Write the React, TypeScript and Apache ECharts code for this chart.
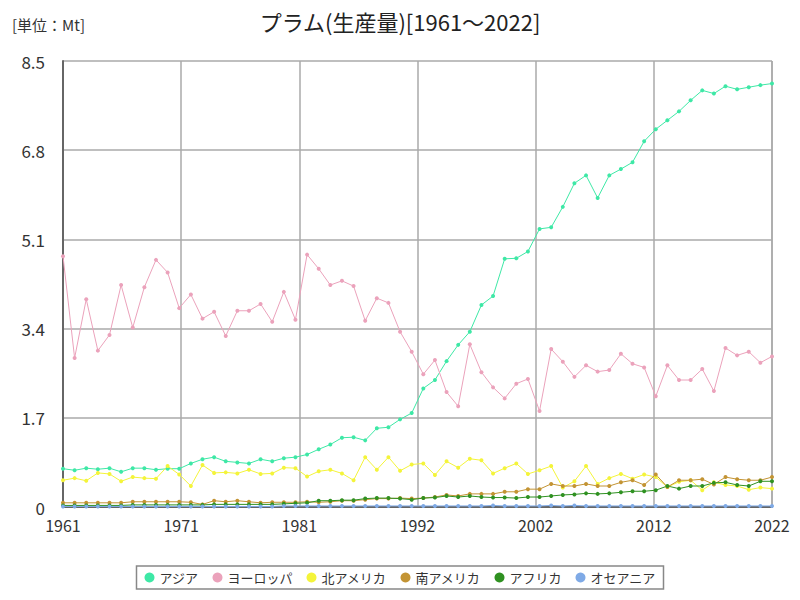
import React, { useEffect, useRef } from "react";
import * as echarts from "echarts";

const START_YEAR = 1961;
const END_YEAR = 2022;
const years: number[] = Array.from({ length: END_YEAR - START_YEAR + 1 }, (_, i) => START_YEAR + i);

const seriesNames = ["アジア", "ヨーロッパ", "北アメリカ", "南アメリカ", "アフリカ", "オセアニア"];
const seriesColors = ["#3ee8a6", "#eba2bb", "#f4f43a", "#c39434", "#2f9121", "#7faae6"];

const asia = [
  0.73, 0.70, 0.74, 0.72, 0.74, 0.67, 0.74, 0.74, 0.71, 0.73,
  0.73, 0.83, 0.91, 0.95, 0.87, 0.85, 0.83, 0.91, 0.87, 0.93,
  0.95, 1.00, 1.10, 1.19, 1.32, 1.33, 1.27, 1.50, 1.52, 1.67,
  1.79, 2.26, 2.42, 2.78, 3.09, 3.34, 3.85, 4.02, 4.73, 4.74,
  4.87, 5.30, 5.33, 5.72, 6.17, 6.32, 5.89, 6.32, 6.44, 6.57,
  6.97, 7.20, 7.37, 7.54, 7.75, 7.94, 7.88, 8.02, 7.96, 8.00,
  8.04, 8.07,
];
const europe = [
  4.78, 2.84, 3.96, 2.98, 3.28, 4.23, 3.42, 4.19, 4.71, 4.47,
  3.79, 4.05, 3.59, 3.72, 3.26, 3.74, 3.74, 3.87, 3.53, 4.10,
  3.57, 4.81, 4.54, 4.23, 4.31, 4.21, 3.55, 3.98, 3.89, 3.34,
  2.96, 2.53, 2.80, 2.19, 1.92, 3.10, 2.57, 2.28, 2.07, 2.35,
  2.44, 1.83, 3.01, 2.77, 2.48, 2.70, 2.58, 2.61, 2.92, 2.73,
  2.66, 2.11, 2.70, 2.42, 2.42, 2.63, 2.21, 3.03, 2.89, 2.96,
  2.75, 2.87,
];
const northAmerica = [
  0.51, 0.55, 0.50, 0.65, 0.63, 0.49, 0.57, 0.55, 0.54, 0.78,
  0.62, 0.40, 0.80, 0.65, 0.66, 0.64, 0.71, 0.63, 0.64, 0.75,
  0.74, 0.58, 0.68, 0.71, 0.64, 0.51, 0.95, 0.71, 0.95, 0.69,
  0.81, 0.83, 0.61, 0.87, 0.75, 0.92, 0.89, 0.64, 0.74, 0.83,
  0.63, 0.70, 0.78, 0.37, 0.49, 0.78, 0.44, 0.55, 0.63, 0.54,
  0.62, 0.57, 0.38, 0.48, 0.51, 0.32, 0.47, 0.42, 0.40, 0.33,
  0.37, 0.35,
];
const southAmerica = [
  0.08, 0.08, 0.08, 0.08, 0.08, 0.08, 0.10, 0.10, 0.10, 0.10,
  0.10, 0.09, 0.05, 0.12, 0.10, 0.12, 0.10, 0.08, 0.09, 0.09,
  0.09, 0.10, 0.09, 0.10, 0.12, 0.12, 0.14, 0.16, 0.16, 0.17,
  0.16, 0.17, 0.19, 0.23, 0.21, 0.25, 0.25, 0.25, 0.29, 0.29,
  0.34, 0.34, 0.44, 0.40, 0.40, 0.44, 0.40, 0.40, 0.47, 0.51,
  0.42, 0.62, 0.38, 0.51, 0.51, 0.53, 0.43, 0.57, 0.53, 0.51,
  0.51, 0.57,
];
const africa = [
  0.03, 0.03, 0.03, 0.03, 0.03, 0.03, 0.04, 0.04, 0.04, 0.04,
  0.04, 0.04, 0.04, 0.05, 0.05, 0.05, 0.05, 0.05, 0.05, 0.06,
  0.07, 0.08, 0.12, 0.12, 0.13, 0.13, 0.16, 0.17, 0.17, 0.16,
  0.14, 0.17, 0.18, 0.21, 0.19, 0.21, 0.19, 0.18, 0.18, 0.17,
  0.19, 0.19, 0.21, 0.23, 0.24, 0.26, 0.25, 0.26, 0.28, 0.30,
  0.30, 0.32, 0.40, 0.35, 0.40, 0.40, 0.46, 0.47, 0.42, 0.40,
  0.49, 0.49,
];
const oceania = [
  0.01, 0.01, 0.01, 0.01, 0.01, 0.01, 0.01, 0.01, 0.01, 0.01,
  0.01, 0.01, 0.01, 0.01, 0.01, 0.01, 0.01, 0.01, 0.01, 0.02,
  0.02, 0.02, 0.02, 0.02, 0.02, 0.02, 0.02, 0.02, 0.02, 0.02,
  0.02, 0.02, 0.02, 0.02, 0.02, 0.02, 0.02, 0.03, 0.02, 0.02,
  0.02, 0.02, 0.03, 0.02, 0.03, 0.02, 0.02, 0.02, 0.02, 0.02,
  0.02, 0.02, 0.02, 0.02, 0.02, 0.02, 0.02, 0.02, 0.02, 0.02,
  0.02, 0.02,
];

const yTicks = { min: 0, max: 8.5, interval: 1.7 };
const FONT = "'Noto Sans CJK JP', 'Noto Sans', sans-serif";

export default function App() {
  const ref = useRef<HTMLDivElement>(null);

  useEffect(() => {
    if (!ref.current) return;
    const chart = echarts.init(ref.current, undefined, { renderer: "svg" });
    const allData = [asia, europe, northAmerica, southAmerica, africa, oceania];
    const span = END_YEAR - START_YEAR;

    chart.setOption({
      animation: false,
      backgroundColor: "#ffffff",
      title: {
        text: "プラム(生産量)[1961～2022]",
        left: "center",
        top: 5,
        textStyle: { fontFamily: FONT, fontSize: 22, fontWeight: "normal", color: "#222" },
      },
      graphic: [
        {
          type: "text",
          left: 12,
          top: 17,
          style: { text: "[単位：Mt]", fontFamily: FONT, fontSize: 15, fill: "#333" },
        },
      ],
      legend: {
        bottom: 11,
        left: "center",
        data: seriesNames,
        icon: "circle",
        itemWidth: 10,
        itemHeight: 10,
        itemGap: 14,
        borderColor: "#888",
        borderWidth: 1.5,
        padding: [5, 8],
        textStyle: { fontFamily: FONT, fontSize: 13, color: "#333" },
      },
      grid: { left: 63, right: 28, top: 61, bottom: 93 },
      xAxis: {
        type: "value",
        min: 0,
        max: span,
        interval: span / 6,
        axisLine: { show: true, lineStyle: { color: "#666", width: 2 } },
        axisTick: { show: false },
        axisLabel: {
          fontFamily: FONT,
          fontSize: 16,
          color: "#333",
          margin: 10,
          formatter: (v: number) => String(Math.round(v + START_YEAR)),
        },
        splitLine: { show: true, lineStyle: { color: "#aaa", width: 1.5 } },
      },
      yAxis: {
        type: "value",
        min: yTicks.min,
        max: yTicks.max,
        interval: yTicks.interval,
        axisLine: { show: true, lineStyle: { color: "#666", width: 2 } },
        axisTick: { show: false },
        axisLabel: {
          fontFamily: FONT,
          fontSize: 17,
          color: "#333",
          margin: 18,
          formatter: (v: number) => (Math.round(v * 10) / 10).toString(),
        },
        splitLine: { show: true, lineStyle: { color: "#aaa", width: 1.5 } },
      },
      series: seriesNames.map((name, si) => ({
        name,
        type: "line",
        data: years.map((y, i) => [y - START_YEAR, allData[si][i]]),
        symbol: "circle",
        symbolSize: 4,
        showSymbol: true,
        itemStyle: { color: seriesColors[si] },
        lineStyle: { color: seriesColors[si], width: 1 },
      })),
    });

    return () => chart.dispose();
  }, []);

  return <div ref={ref} style={{ width: 800, height: 600, position: "absolute", left: 0, top: 0 }} />;
}
